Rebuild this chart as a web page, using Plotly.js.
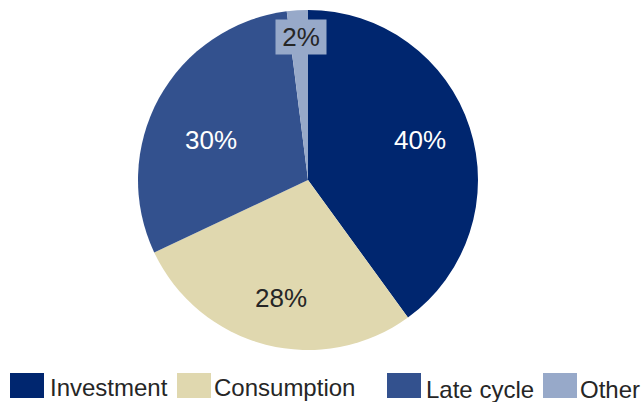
<!DOCTYPE html>
<html>
<head>
<meta charset="utf-8">
<script src="https://cdn.plot.ly/plotly-3.0.1.min.js"></script>
<style>
  html, body { margin: 0; padding: 0; background: #ffffff; }
  #chart { width: 642px; height: 402px; }
</style>
</head>
<body>
<div id="chart"></div>
<script>
// Segment shares (percent), listed clockwise from 12 o'clock
const segments = ['Investment', 'Consumption', 'Late cycle', 'Other'];
const shares = [40, 28, 30, 2];
const colors = ['#00266F', '#E0D8AF', '#33518E', '#97A9C9'];
const labelColors = ['#ffffff', '#262626', '#ffffff', '#262626'];

const W = 642, H = 402;
const FONT = 'Liberation Sans, Arial, sans-serif';

// pie placement in pixels
const cx = 308, cy = 180, R = 170;

const trace = {
  type: 'pie',
  labels: segments,
  values: shares,
  sort: false,
  direction: 'clockwise',
  rotation: 0,
  marker: { colors: colors, line: { width: 0 } },
  textinfo: 'none',
  hoverinfo: 'label+percent',
  showlegend: false,
  domain: {
    x: [(cx - R) / W, (cx + R) / W],
    y: [(H - cy - R) / H, (H - cy + R) / H]
  }
};

// percentage labels placed near each slice's mid-angle
const total = shares.reduce((a, b) => a + b, 0);
const labelRadius = [0.70, 0.71, 0.62, 0.84];
const labelTurn = [-1.5, -1.5, -6.4, 0.8];   // degrees
const annotations = [];
let cum = 0;
shares.forEach((v, i) => {
  const mid = ((cum + v / 2) / total * 360 + labelTurn[i]) * Math.PI / 180;
  cum += v;
  const r = R * labelRadius[i];
  const px = cx + r * Math.sin(mid);
  const py = cy - r * Math.cos(mid);
  const small = v / total < 0.05;
  const ann = {
    xref: 'paper', yref: 'paper',
    x: px / W,
    y: 1 - py / H,
    text: Math.round(v / total * 100) + '%',
    showarrow: false,
    font: { family: FONT, size: 26, color: labelColors[i] },
    xanchor: 'center', yanchor: 'middle'
  };
  if (small) {
    // the thin slice gets its label in a filled box near the rim
    ann.bgcolor = colors[i];
    ann.width = 50;
    ann.height = 34;
    ann.borderpad = 0;
  }
  annotations.push(ann);
});

// legend row drawn as swatches + text
const legendSwatchX = [10, 177, 387, 543];
const legendTextX = [48, 212, 424, 578];
const shapes = [];
segments.forEach((s, i) => {
  shapes.push({
    type: 'rect', xref: 'paper', yref: 'paper',
    x0: legendSwatchX[i] / W, x1: (legendSwatchX[i] + 34) / W,
    y0: 1 - 398 / H, y1: 1 - 373 / H,
    fillcolor: colors[i], line: { width: 0 }
  });
  annotations.push({
    xref: 'paper', yref: 'paper',
    x: legendTextX[i] / W, y: 1 - (i < 2 ? 387 : 389) / H,
    text: s, showarrow: false,
    font: { family: FONT, size: 24, color: '#262626' },
    xanchor: 'left', yanchor: 'middle'
  });
});

const layout = {
  width: W, height: H,
  margin: { l: 0, r: 0, t: 0, b: 0 },
  paper_bgcolor: '#ffffff',
  showlegend: false,
  annotations: annotations,
  shapes: shapes
};

Plotly.newPlot('chart', [trace], layout, { displayModeBar: false, staticPlot: true });
</script>
</body>
</html>
